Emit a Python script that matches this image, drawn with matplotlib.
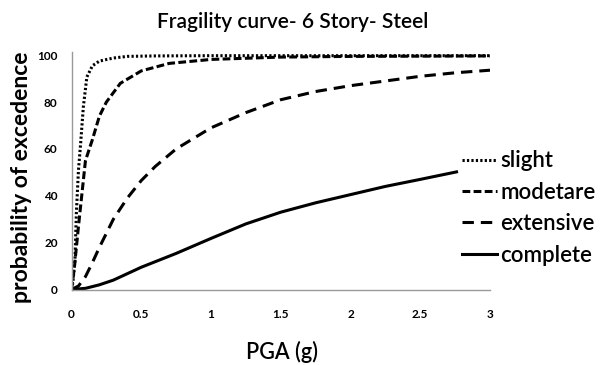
import matplotlib
matplotlib.use("Agg")
import matplotlib.pyplot as plt

plt.rcParams['font.family'] = ['Lato', 'DejaVu Sans']
plt.rcParams['lines.scale_dashes'] = False

# ---- data ----
slight_x = [0, 0.01, 0.025, 0.035, 0.05, 0.065, 0.085, 0.11, 0.15, 0.2, 0.3, 0.4, 0.6, 1.0, 2.0, 3.0]
slight_y = [0, 3, 13, 33, 51, 62, 78, 90.7, 95.5, 97.5, 98.8, 99.5, 99.7, 99.8, 99.8, 99.8]

moderate_x = [0, 0.02, 0.05, 0.1, 0.15, 0.2, 0.25, 0.35, 0.5, 0.7, 1.0, 1.5, 2.0, 2.5, 3.0]
moderate_y = [0, 9, 27, 55, 64, 74, 80, 88, 93.3, 96.5, 98.2, 99.2, 99.5, 99.6, 99.7]

extensive_x = [0, 0.05, 0.1, 0.15, 0.2, 0.3, 0.4, 0.5, 0.6, 0.75, 1.0, 1.25, 1.5, 1.75, 2.0, 2.25, 2.5, 2.75, 3.0]
extensive_y = [0, 1.5, 5.5, 11.5, 18, 30, 39, 46.5, 52.5, 60, 69, 75.5, 81, 84.5, 87, 89, 91, 92.5, 93.6]

complete_x = [0, 0.1, 0.2, 0.3, 0.5, 0.75, 1.0, 1.25, 1.5, 1.75, 2.0, 2.25, 2.5, 2.76]
complete_y = [0, 0.5, 2, 4, 9.5, 15.4, 21.8, 28, 33, 37, 40.5, 44, 47, 50.2]

labels = ["slight", "modetare", "extensive", "complete"]
x_ticks = [0, 0.5, 1, 1.5, 2, 2.5, 3]
x_ticklabels = ["0", "0.5", "1", "1.5", "2", "2.5", "3"]
y_ticks = [0, 20, 40, 60, 80, 100]

fig = plt.figure(figsize=(6.01, 3.65), dpi=100)
ax = fig.add_axes([71.5 / 601, 75.5 / 365, (490 - 71.5) / 601, (289.5 - 51.7) / 365])

lw = 2.2
ax.plot(slight_x, slight_y, color='black', lw=lw, dashes=(1.6, 1.6), dash_capstyle='butt', label=labels[0])
ax.plot(moderate_x, moderate_y, color='black', lw=lw, dashes=(5.6, 2.4), dash_capstyle='butt', label=labels[1])
ax.plot(extensive_x, extensive_y, color='black', lw=lw, dashes=(8.2, 5.0), dash_capstyle='butt', label=labels[2])
ax.plot(complete_x, complete_y, color='black', lw=lw, label=labels[3])

ax.set_xlim(0, 3)
ax.set_ylim(0, 101.5)
ax.set_xticks(x_ticks)
ax.set_xticklabels(x_ticklabels)
ax.set_yticks(y_ticks)
for s in ['top', 'right']:
    ax.spines[s].set_visible(False)
for s in ['left', 'bottom']:
    ax.spines[s].set_color('#999999')
    ax.spines[s].set_linewidth(1.0)
ax.tick_params(axis='x', length=0, pad=14, labelsize=8.5)
ax.tick_params(axis='y', length=0, pad=10, labelsize=8.5)
for t in ax.get_xticklabels() + ax.get_yticklabels():
    t.set_fontweight('bold')

fig.text(0.487, 0.94, "Fragility curve- 6 Story- Steel", ha='center', va='center',
         fontsize=15, fontweight='semibold')
fig.text(282 / 601, 1 - 352 / 365, "PGA (g)", ha='center', va='center',
         fontsize=15.5, fontweight='semibold')
fig.text(22 / 601, 1 - 177 / 365, "probability of excedence", ha='center', va='center',
         rotation=90, fontsize=16.5, fontweight='bold')

leg = ax.legend(loc='center left', bbox_to_anchor=(462 / 601, 1 - 208 / 365),
                bbox_transform=fig.transFigure, frameon=False,
                prop={'size': 16, 'weight': 'semibold'},
                handlelength=1.58, handletextpad=0.15, labelspacing=0.47,
                borderpad=0, borderaxespad=0)

fig.savefig("out.png", dpi=100, facecolor='white')
